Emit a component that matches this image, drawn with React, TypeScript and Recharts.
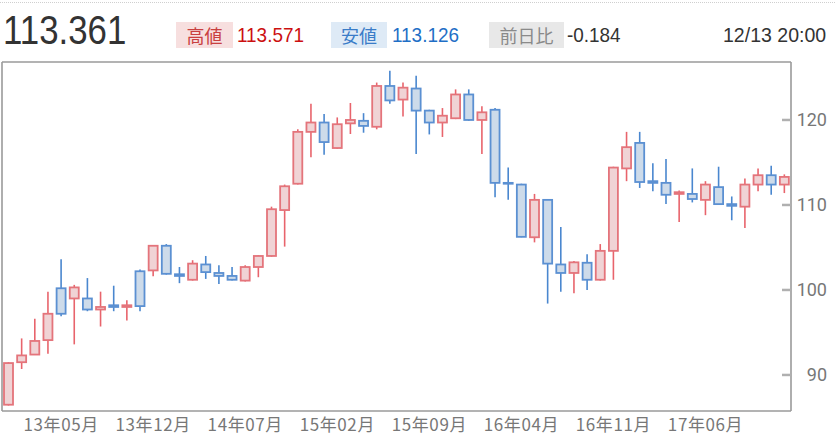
import React from "react";
import { ComposedChart, Bar, XAxis, YAxis } from "recharts";

// monthly candles, 2013/01 - 2017/12
const MONTHS = [
  "13年01月", "13年02月", "13年03月", "13年04月", "13年05月", "13年06月", "13年07月", "13年08月", "13年09月", "13年10月", "13年11月", "13年12月",
  "14年01月", "14年02月", "14年03月", "14年04月", "14年05月", "14年06月", "14年07月", "14年08月", "14年09月", "14年10月", "14年11月", "14年12月",
  "15年01月", "15年02月", "15年03月", "15年04月", "15年05月", "15年06月", "15年07月", "15年08月", "15年09月", "15年10月", "15年11月", "15年12月",
  "16年01月", "16年02月", "16年03月", "16年04月", "16年05月", "16年06月", "16年07月", "16年08月", "16年09月", "16年10月", "16年11月", "16年12月",
  "17年01月", "17年02月", "17年03月", "17年04月", "17年05月", "17年06月", "17年07月", "17年08月", "17年09月", "17年10月", "17年11月", "17年12月",
];

const OPEN = [
  86.5, 91.5, 92.4, 94.1, 100.2, 99.0, 99.0, 97.7, 98.2, 98.0, 102.2, 102.3,
  105.2, 101.85, 101.2, 103.0, 102.0, 101.65, 101.1, 102.7, 104.0, 109.4, 112.5, 118.6,
  119.7, 116.7, 119.6, 119.9, 119.2, 124.0, 122.4, 123.7, 121.1, 119.7, 120.2, 123.0,
  120.0, 121.2, 112.6, 112.4, 106.2, 110.6, 103.0, 102.0, 103.2, 101.2, 104.6, 114.3,
  117.3, 112.8, 112.6, 111.3, 111.3, 110.6, 112.1, 110.1, 109.8, 112.4, 113.5, 112.4,
];
const HIGH = [
  91.5, 94.3, 96.6, 99.8, 103.6, 100.6, 101.4, 99.8, 100.5, 98.8, 102.4, 105.3,
  105.4, 102.7, 103.5, 104.0, 102.9, 102.7, 102.9, 104.1, 109.8, 112.4, 118.9, 121.9,
  120.7, 120.3, 122.0, 120.8, 124.4, 125.8, 124.4, 125.2, 121.2, 121.4, 123.6, 123.6,
  121.6, 121.4, 114.4, 112.5, 111.3, 110.7, 107.4, 103.4, 104.2, 105.4, 114.5, 118.6,
  118.6, 114.9, 115.4, 111.7, 114.3, 112.8, 114.5, 111.0, 113.1, 114.3, 114.6, 113.6,
];
const LOW = [
  86.4, 90.7, 92.4, 92.5, 96.9, 93.6, 97.5, 95.7, 97.5, 96.4, 97.5, 101.6,
  101.8, 100.8, 101.1, 101.3, 100.7, 101.1, 101.0, 101.5, 103.9, 105.1, 112.4, 115.6,
  115.9, 116.6, 118.35, 118.5, 118.9, 121.9, 120.4, 116.0, 118.3, 118.0, 120.1, 119.9,
  116.0, 110.9, 110.6, 106.2, 105.6, 98.4, 99.8, 99.6, 100.0, 101.1, 101.2, 112.8,
  112.0, 111.6, 110.1, 108.0, 110.3, 108.8, 110.0, 108.2, 107.3, 111.6, 111.2, 111.4,
];
const CLOSE = [
  91.4, 92.3, 94.0, 97.2, 97.2, 100.3, 97.7, 98.0, 98.0, 98.2, 98.1, 105.2,
  101.9, 101.65, 103.1, 102.1, 101.65, 101.2, 102.7, 104.0, 109.5, 112.2, 118.6, 119.7,
  117.4, 119.5, 120.0, 119.3, 124.0, 122.3, 123.8, 121.1, 119.7, 120.5, 123.0, 120.0,
  120.9, 112.6, 112.5, 106.25, 110.6, 103.1, 102.0, 103.25, 101.2, 104.6, 114.4, 116.8,
  112.7, 112.6, 111.2, 111.5, 110.7, 112.4, 110.1, 109.9, 112.4, 113.5, 112.4, 113.3,
];

const X_TICKS = ["13年05月", "13年12月", "14年07月", "15年02月", "15年09月", "16年04月", "16年11月", "17年06月"];
const Y_TICKS = [90, 100, 110, 120];

const data = MONTHS.map((m, i) => ({ month: m, open: OPEN[i], high: HIGH[i], low: LOW[i], close: CLOSE[i] }));

const UP = { stroke: "#e4747b", fill: "#f0d3d5", wick: "#e8646c" };
const DOWN = { stroke: "#5b90d2", fill: "#cddbea", wick: "#4a87cf" };
const FRAME = "#9a9a9a";

// draws wick + body inside the [low, high] range bar that recharts lays out
function Candle(props: any) {
  const { x, y, width, height, payload } = props;
  if (!payload) return null;
  const { open, close, high, low } = payload;
  const c = close >= open ? UP : DOWN;
  const top = Math.min(y, y + height);
  const h = Math.abs(height);
  const k = h / (high - low);
  const cx = x + width / 2;
  const bTop = top + (high - Math.max(open, close)) * k;
  const bBot = top + (high - Math.min(open, close)) * k;
  return (
    <g>
      <line x1={cx} x2={cx} y1={top} y2={top + h} stroke={c.wick} strokeWidth={1.6} />
      <rect x={x} y={bTop} width={width} height={Math.max(bBot - bTop, 0.5)} fill={c.fill} stroke={c.stroke} strokeWidth={1.8} />
    </g>
  );
}

function XTick(props: any) {
  const { x, y, payload } = props;
  return (
    <text x={x} y={y} dy="0.71em" textAnchor="middle" fill="#777" fontSize={17} letterSpacing={0.6} fontFamily="'Noto Sans CJK JP', sans-serif">
      {payload.value}
    </text>
  );
}

function YTick(props: any) {
  const { x, y, payload } = props;
  return (
    <text x={x + 45} y={y} dy="0.36em" textAnchor="end" fill="#777" fontSize={18} fontFamily="Roboto, sans-serif">
      {payload.value}
    </text>
  );
}

const num = "'Liberation Sans', Arial, sans-serif";

function Badge({ left, width, bg, color, label }: { left: number; width: number; bg: string; color: string; label: string }) {
  return (
    <div
      style={{
        position: "absolute", left, top: 22, width, height: 26, background: bg, color,
        fontSize: 18, lineHeight: "26px", textAlign: "center", fontFamily: "'Noto Sans CJK JP', sans-serif",
      }}
    >
      {label}
    </div>
  );
}

function Value({ left, color, text, sx = 0.9 }: { left: number; color: string; text: string; sx?: number }) {
  return (
    <div
      style={{
        position: "absolute", left, top: 20, color, fontSize: 21, lineHeight: "30px", fontFamily: num,
        whiteSpace: "nowrap", transform: `scaleX(${sx})`, transformOrigin: "left center",
      }}
    >
      {text}
    </div>
  );
}

export default function App() {
  return (
    <div style={{ position: "relative", width: 835, height: 446, background: "#fff", overflow: "hidden" }}>
      <style>{`body{margin:0}`}</style>
      <div style={{ position: "absolute", left: 0, right: 0, top: 2, borderTop: "1px dotted #cfcfcf" }} />
      <div
        style={{
          position: "absolute", left: 3, top: 6, color: "#333", fontSize: 41, lineHeight: "48px", fontFamily: num,
          whiteSpace: "nowrap", transform: "scaleX(0.85)", transformOrigin: "left center",
        }}
      >
        113.361
      </div>
      <Badge left={176} width={57} bg="#f7dfdf" color="#c94040" label="高値" />
      <Value left={237} color="#cc1010" text="113.571" />
      <Badge left={331} width={56} bg="#deeaf6" color="#3a7cc8" label="安値" />
      <Value left={392} color="#1f6fc6" text="113.126" />
      <Badge left={489} width={75} bg="#e8e8e8" color="#8a8a8a" label="前日比" />
      <Value left={567} color="#333" text="-0.184" />
      <Value left={723} color="#333" text="12/13 20:00" sx={0.93} />

      <div style={{ position: "absolute", left: 0, top: 56 }}>
        <ComposedChart width={835} height={390} data={data} margin={{ top: 5, right: 0, bottom: 5, left: 1 }}>
          <XAxis
            xAxisId="main"
            dataKey="month"
            ticks={X_TICKS}
            interval={0}
            tickLine={false}
            axisLine={{ stroke: FRAME, strokeWidth: 1.6 }}
            tick={<XTick />}
            height={30}
          />
          <XAxis xAxisId="top" dataKey="month" orientation="top" height={1} tick={false} tickLine={false} axisLine={{ stroke: FRAME, strokeWidth: 1.6 }} />
          <YAxis
            yAxisId="left"
            orientation="left"
            width={1}
            domain={[85.76, 126.82]}
            allowDataOverflow
            tick={false}
            tickLine={false}
            axisLine={{ stroke: FRAME, strokeWidth: 1.6 }}
          />
          <YAxis
            yAxisId="right"
            orientation="right"
            width={44}
            domain={[85.76, 126.82]}
            allowDataOverflow
            ticks={Y_TICKS}
            tickSize={-9}
            tickMargin={0}
            tickLine={{ stroke: "#b0b0b0", strokeWidth: 2.5 }}
            axisLine={{ stroke: FRAME, strokeWidth: 1.6 }}
            tick={<YTick />}
          />
          <Bar
            xAxisId="main"
            yAxisId="right"
            dataKey={(d: any) => [d.low, d.high]}
            barSize={9}
            shape={<Candle />}
            isAnimationActive={false}
          />
        </ComposedChart>
      </div>
    </div>
  );
}
